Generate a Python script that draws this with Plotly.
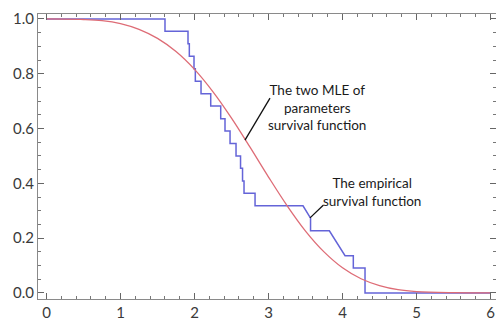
import plotly.graph_objects as go

# Empirical survival function (step path vertices)
emp_x = [0, 1.601, 1.601, 1.912, 1.912, 1.930, 1.930, 1.993, 1.993, 2.011, 2.011,
         2.088, 2.088, 2.219, 2.219, 2.354, 2.354, 2.412, 2.412, 2.480, 2.480,
         2.561, 2.561, 2.622, 2.622, 2.649, 2.649, 2.669, 2.669, 2.818, 2.818,
         3.466, 3.568, 3.568, 3.822, 4.034, 4.146, 4.146, 4.304, 4.304, 6.0]
emp_y = [1.0, 1.0, 0.955, 0.955, 0.909, 0.909, 0.864, 0.864, 0.818, 0.818, 0.773,
         0.773, 0.727, 0.727, 0.682, 0.682, 0.636, 0.636, 0.591, 0.591, 0.545,
         0.545, 0.5, 0.5, 0.455, 0.455, 0.409, 0.409, 0.364, 0.364, 0.318,
         0.318, 0.273, 0.227, 0.227, 0.136, 0.136, 0.091, 0.091, 0.0, 0.0]

# Two-parameter MLE survival function
mle_t = [0, 0.5, 0.75, 1.0, 1.25, 1.5, 1.75, 2.0, 2.25, 2.5, 2.75, 3.0, 3.25,
         3.5, 3.75, 4.0, 4.25, 4.5, 4.75, 5.0, 5.5, 6.0]
mle_s = [1.0, 0.998, 0.994, 0.983, 0.962, 0.929, 0.881, 0.816, 0.734, 0.638,
         0.532, 0.423, 0.319, 0.226, 0.150, 0.092, 0.052, 0.027, 0.012, 0.005,
         0.001, 0.0]

x_ticks = [0, 1, 2, 3, 4, 5, 6]
y_ticks = [0.0, 0.2, 0.4, 0.6, 0.8, 1.0]

fig = go.Figure()
fig.add_trace(go.Scatter(x=emp_x, y=emp_y, mode="lines",
                         line=dict(color="#6464d8", width=1.5), showlegend=False))
fig.add_trace(go.Scatter(x=mle_t, y=mle_s, mode="lines", line_shape="spline",
                         line=dict(color="#de6c76", width=1.3), showlegend=False))

font_txt = dict(family="Lato", size=13.5, color="#1a1a1a")
fig.add_annotation(x=3.65, y=0.677, xref="x", yref="y", showarrow=False,
                   text="The two MLE of<br>parameters<br>survival function",
                   font=font_txt, align="center")
fig.add_annotation(x=4.40, y=0.369, xref="x", yref="y", showarrow=False,
                   text="The empirical<br>survival function",
                   font=font_txt, align="center")
fig.add_shape(type="line", xref="x", yref="y", x0=2.682, y0=0.558, x1=3.020, y1=0.711,
              line=dict(color="#111111", width=1.3))
fig.add_shape(type="line", xref="x", yref="y", x0=3.561, y0=0.274, x1=3.743, y1=0.321,
              line=dict(color="#111111", width=1.3))

axis_common = dict(showgrid=False, zeroline=False, showline=True, linecolor="#8a8a8a",
                   linewidth=1, ticks="inside", tickcolor="#666666", mirror="ticks",
                   automargin=False,
                   tickfont=dict(family="Lato", size=15, color="#3a3a3a"))

fig.update_xaxes(range=[-0.115, 6.074], tickvals=x_ticks, ticklen=6,
                 minor=dict(dtick=0.2, ticks="inside", ticklen=3, tickcolor="#777777"),
                 **axis_common)
fig.update_yaxes(range=[-0.022, 1.018], tickvals=y_ticks, tickformat=".1f", ticklen=6,
                 minor=dict(dtick=0.05, ticks="inside", ticklen=3, tickcolor="#777777"),
                 **axis_common)

fig.update_layout(width=496, height=322, margin=dict(l=38, r=0, t=14, b=23),
                  paper_bgcolor="white", plot_bgcolor="white")

# remove the default page margin so the figure fills the window exactly
fig.write_html("out.html", config={"displayModeBar": False},
               post_script="document.body.style.margin='0';"
                           "document.body.style.overflow='hidden';")
